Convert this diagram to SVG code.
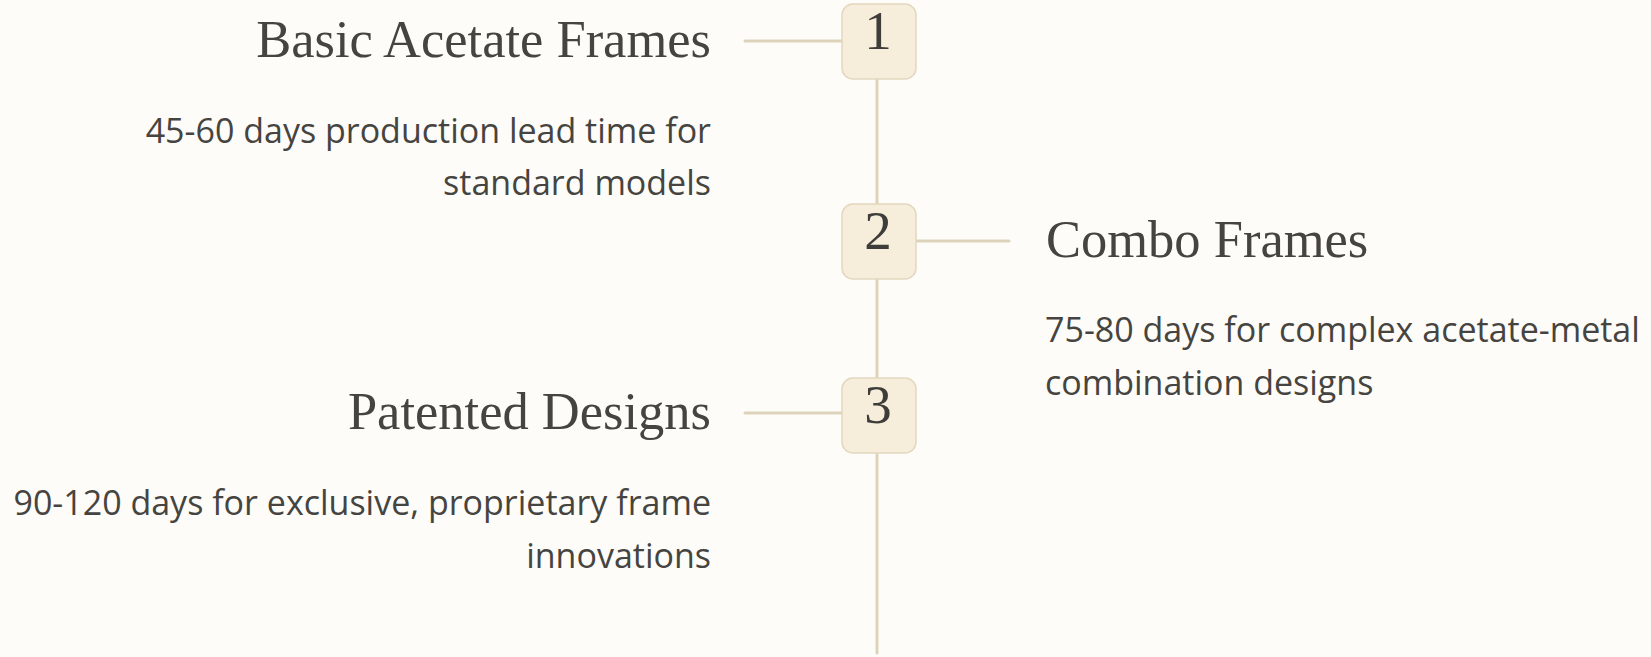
<svg xmlns="http://www.w3.org/2000/svg" width="1651" height="657" viewBox="0 0 1651 657">
  <style>
    .bg { fill: #fdfcf8; }
    .conn { stroke: #ddd3bb; stroke-width: 3; stroke-linecap: round; fill: none; }
    .box { fill: #f6eedb; stroke: #e2d8bf; stroke-width: 1.5; }
    .num { font-family: "Liberation Serif", "Times New Roman", serif; font-size: 55px; fill: #3f3d3a; text-anchor: middle; }
    .title { font-family: "Liberation Serif", "Times New Roman", serif; font-size: 52.5px; fill: #464440; }
    .desc { font-family: "Open Sans", "DejaVu Sans", sans-serif; font-size: 34px; fill: #464440; }
    .r { text-anchor: end; }
  </style>
  <rect class="bg" x="0" y="0" width="1651" height="657"/>
  <g id="connectors">
    <line class="conn" x1="877" y1="41" x2="877" y2="653"/>
    <line class="conn" x1="745" y1="41" x2="842" y2="41"/>
    <line class="conn" x1="916" y1="241" x2="1009" y2="241"/>
    <line class="conn" x1="745" y1="413" x2="842" y2="413"/>
  </g>
  <g id="node1">
    <rect class="box" x="842" y="4" width="74" height="75" rx="11"/>
    <text class="num" x="878" y="49">1</text>
    <text class="title r" x="711" y="57">Basic Acetate Frames</text>
    <text class="desc r" x="711" y="143">45-60 days production lead time for</text>
    <text class="desc r" x="711" y="195">standard models</text>
  </g>
  <g id="node2">
    <rect class="box" x="842" y="204" width="74" height="75" rx="11"/>
    <text class="num" x="878" y="249">2</text>
    <text class="title" x="1046" y="257">Combo Frames</text>
    <text class="desc" x="1045" y="342">75-80 days for complex acetate-metal</text>
    <text class="desc" x="1045" y="395">combination designs</text>
  </g>
  <g id="node3">
    <rect class="box" x="842" y="378" width="74" height="75" rx="11"/>
    <text class="num" x="878" y="423">3</text>
    <text class="title r" x="711" y="429">Patented Designs</text>
    <text class="desc r" x="711" y="515">90-120 days for exclusive, proprietary frame</text>
    <text class="desc r" x="711" y="568">innovations</text>
  </g>
</svg>
